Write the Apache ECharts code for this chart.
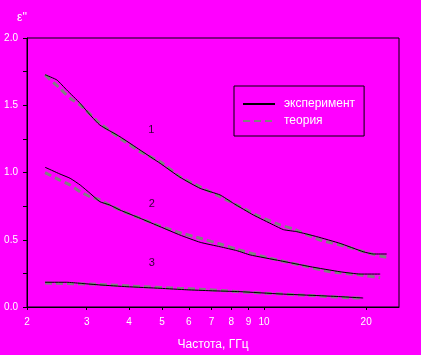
<!DOCTYPE html>
<html><head><meta charset="utf-8">
<script src="https://cdn.jsdelivr.net/npm/echarts@6/dist/echarts.min.js"></script>
<style>html,body{margin:0;padding:0;background:#ff00ff;}#c{width:421px;height:355px;}</style>
</head><body><div id="c"></div>
<script>
// Frequencies (GHz) and epsilon'' values
const expF1 = [2.26,2.45,2.62,2.87,3.07,3.28,3.76,4.31,4.94,5.65,6.48,7.42,8.12,9.30,10.66,11.41,12.49,14.31,16.76,19.6,21.0,23.0];
const expV1 = [1.727,1.688,1.613,1.514,1.428,1.353,1.266,1.167,1.068,0.965,0.882,0.833,0.771,0.684,0.610,0.575,0.560,0.523,0.473,0.411,0.394,0.394];
const theF1 = [2.26,2.50,2.68,2.87,3.28,3.76,4.31,4.94,5.65,6.48,7.42,8.50,9.74,11.15,12.21,14.63,17.54,20.1,22.0,23.0];
const theV1 = [1.725,1.626,1.552,1.502,1.366,1.254,1.155,1.080,0.969,0.894,0.820,0.746,0.671,0.610,0.580,0.498,0.448,0.404,0.379,0.370];

const expF2 = [2.26,2.50,2.68,2.87,3.07,3.28,3.51,3.76,4.31,4.94,5.65,6.48,7.42,8.31,9.10,11.15,13.67,16.76,19.2,22.0];
const expV2 = [1.039,0.989,0.957,0.907,0.845,0.783,0.758,0.721,0.660,0.597,0.535,0.481,0.448,0.419,0.387,0.344,0.300,0.262,0.245,0.245];
const theF2 = [2.26,2.50,2.68,2.87,3.07,3.28,3.51,3.76,4.31,4.94,5.65,6.48,7.42,8.31,10.42,12.78,15.66,19.2,22.0];
const theV2 = [0.999,0.944,0.907,0.857,0.820,0.796,0.758,0.721,0.660,0.602,0.552,0.511,0.468,0.429,0.362,0.312,0.262,0.238,0.218];

const expF3 = [2.26,2.62,2.87,3.28,3.94,4.94,5.92,6.93,8.50,11.15,14.63,16.76,19.6];
const expV3 = [0.184,0.184,0.176,0.164,0.151,0.139,0.128,0.121,0.114,0.097,0.084,0.077,0.067];
const theF3 = [2.26,3.28,4.31,5.65,6.48,9.10,12.78,18.0,19.6];
const theV3 = [0.178,0.168,0.152,0.138,0.132,0.109,0.089,0.069,0.066];

const xTicks = [2,3,4,5,6,7,8,9,10,20];
const curveLabels = ['1','2','3'];
const curveLabelF = [4.65,4.67,4.67];
const curveLabelV = [1.316,0.766,0.327];

const lg = Math.log10;
const pts = (f, v) => f.map((x, i) => [lg(x), v[i]]);

const txt = {color:'#ffffff', fontFamily:'Liberation Sans', fontSize:10, textShadowColor:'#000', textShadowOffsetX:1, textShadowOffsetY:1, textShadowBlur:0};

const expStyle = {type:'line', name:'эксперимент', symbol:'none', smooth:0.15, lineStyle:{color:'#000', width:1}, itemStyle:{color:'#000'}, z:3};
const theStyle = {type:'line', name:'теория', symbol:'none', smooth:0.15, lineStyle:{color:'#808080', width:3, type:[7,4]}, itemStyle:{color:'#808080'}, z:2};

const chart = echarts.init(document.getElementById('c'), null, {renderer:'canvas'});
chart.setOption({
  backgroundColor:'#ff00ff',
  animation:false,
  grid:{left:27, top:38, right:22, bottom:48, show:true, borderColor:'#000', borderWidth:1, backgroundColor:'transparent', containLabel:false, outerBoundsMode:'none'},
  legend:{
    data:['эксперимент','теория'], orient:'vertical', left:234, top:86,
    padding:[12,9,9,8], itemGap:5, itemWidth:32, itemHeight:10,
    borderColor:'#000', borderWidth:1, backgroundColor:'#ff00ff',
    itemStyle:{color:'transparent', borderWidth:0, borderColor:'transparent'},
    textStyle:Object.assign({}, txt, {fontSize:12, padding:[0,0,0,4]})
  },
  xAxis:{
    type:'value', min:lg(2), max:lg(25),
    name:'Частота, ГГц', nameLocation:'middle', nameGap:32,
    nameTextStyle:Object.assign({}, txt, {fontSize:12}),
    axisLine:{lineStyle:{color:'#000', width:1}},
    axisTick:{show:true, length:3, lineStyle:{color:'#000'}, customValues:xTicks.map(lg)},
    axisLabel:Object.assign({}, txt, {margin:10, customValues:xTicks.map(lg), formatter:v => String(Math.round(Math.pow(10, v)))}),
    splitLine:{show:false}
  },
  yAxis:{
    type:'value', min:0, max:2, interval:0.25,
    name:"ε''", nameLocation:'end', nameGap:14,
    nameTextStyle:Object.assign({}, txt, {fontSize:12, align:'right'}),
    axisLine:{lineStyle:{color:'#000', width:1}},
    axisTick:{show:true, length:4, lineStyle:{color:'#000'}},
    axisLabel:Object.assign({}, txt, {margin:9, formatter:v => (Math.abs(v*2 - Math.round(v*2)) < 1e-9 ? v.toFixed(1) : '')}),
    splitLine:{show:false}
  },
  series:[
    Object.assign({data:pts(theF1, theV1)}, theStyle),
    Object.assign({data:pts(theF2, theV2)}, theStyle),
    Object.assign({data:pts(theF3, theV3)}, theStyle),
    Object.assign({data:pts(expF1, expV1)}, expStyle),
    Object.assign({data:pts(expF2, expV2)}, expStyle),
    Object.assign({data:pts(expF3, expV3)}, expStyle),
    {type:'scatter', name:'labels', symbolSize:1, itemStyle:{color:'transparent'},
     data:curveLabels.map((n, i) => ({name:n, value:[lg(curveLabelF[i]), curveLabelV[i]]})),
     label:{show:true, position:'inside', formatter:'{b}', color:'#000', fontFamily:'Liberation Sans', fontSize:11},
     silent:true, z:5}
  ]
});
</script></body></html>
